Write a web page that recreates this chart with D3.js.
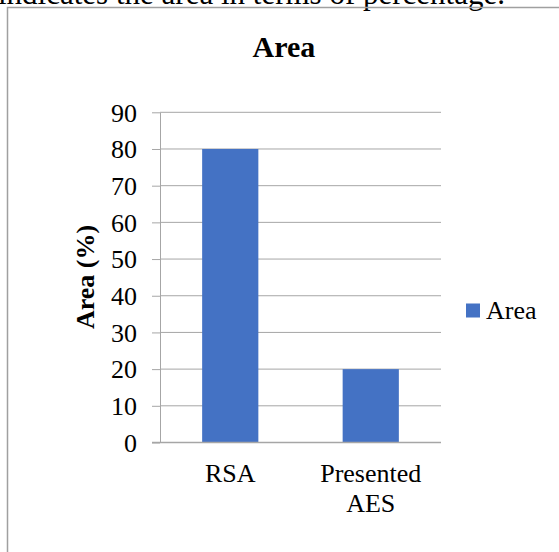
<!DOCTYPE html>
<html>
<head>
<meta charset="utf-8">
<script src="https://cdn.jsdelivr.net/npm/d3@7"></script>
<style>
  html, body { margin: 0; padding: 0; background: #fff; }
  svg { display: block; }
</style>
</head>
<body>
<svg id="chart" width="559" height="552"></svg>
<script>
// Chart data
const categories = [["RSA"], ["Presented", "AES"]];
const values = [80, 20];
const yTicks = [0, 10, 20, 30, 40, 50, 60, 70, 80, 90];
const seriesName = "Area";
const chartTitle = "Area";
const yLabel = "Area (%)";
const captionText = "indicates the area in terms of percentage.";

const font = "'Liberation Serif', 'Times New Roman', serif";
const barColor = "#4472C4";
const gridColor = "#A6A6A6";

const svg = d3.select("#chart");

// Caption line from the surrounding document
svg.append("text")
  .attr("x", -2).attr("y", 4)
  .attr("font-family", font).attr("font-size", 31)
  .attr("fill", "#000")
  .text(captionText);

// Chart frame (left and top edges)
svg.append("path")
  .attr("d", "M7.5,560 V7.5 H570")
  .attr("fill", "none")
  .attr("stroke", "#A0A0A0")
  .attr("stroke-width", 1.5);

const plot = { left: 160, right: 441, top: 112.3, bottom: 442.5 };

const x = d3.scaleBand()
  .domain(categories.map(c => c.join(" ")))
  .range([plot.left, plot.right])
  .paddingInner(0.6)
  .paddingOuter(0.3);

const y = d3.scaleLinear()
  .domain([0, 90])
  .range([plot.bottom, plot.top]);

// Title
svg.append("text")
  .attr("x", 284).attr("y", 57)
  .attr("text-anchor", "middle")
  .attr("font-family", font).attr("font-size", 30).attr("font-weight", "bold")
  .text(chartTitle);

// Gridlines
svg.append("g")
  .selectAll("line")
  .data(yTicks)
  .join("line")
  .attr("x1", plot.left).attr("x2", plot.right)
  .attr("y1", d => y(d)).attr("y2", d => y(d))
  .attr("stroke", gridColor).attr("stroke-width", 1);

// Y axis
const yAxis = svg.append("g")
  .attr("transform", `translate(${plot.left},0)`)
  .call(d3.axisLeft(y).tickValues(yTicks).tickSize(8).tickPadding(15).tickSizeOuter(0));
yAxis.select(".domain").attr("stroke", gridColor);
yAxis.selectAll(".tick line").attr("stroke", gridColor);
yAxis.selectAll(".tick text")
  .attr("font-family", font).attr("font-size", 26).attr("fill", "#000")
  .attr("dy", "0.34em");

// Bars
svg.append("g")
  .selectAll("rect")
  .data(values)
  .join("rect")
  .attr("x", (d, i) => x(categories[i].join(" ")))
  .attr("width", x.bandwidth())
  .attr("y", d => y(d))
  .attr("height", d => y(0) - y(d))
  .attr("fill", barColor);

// Redraw baseline above bars
svg.append("line")
  .attr("x1", plot.left - 8).attr("x2", plot.right)
  .attr("y1", y(0)).attr("y2", y(0))
  .attr("stroke", gridColor).attr("stroke-width", 1.5);

// Category labels
const catG = svg.append("g");
categories.forEach((lines, i) => {
  const cx = x(lines.join(" ")) + x.bandwidth() / 2;
  const t = catG.append("text")
    .attr("text-anchor", "middle")
    .attr("font-family", font).attr("font-size", 26);
  lines.forEach((ln, j) => {
    t.append("tspan").attr("x", cx).attr("y", 482 + j * 30).text(ln);
  });
});

// Y axis title
svg.append("text")
  .attr("transform", "translate(94,277) rotate(-90)")
  .attr("text-anchor", "middle")
  .attr("font-family", font).attr("font-size", 26).attr("font-weight", "bold")
  .text(yLabel);

// Legend
svg.append("rect")
  .attr("x", 466).attr("y", 303.5)
  .attr("width", 14).attr("height", 14)
  .attr("fill", barColor);
svg.append("text")
  .attr("x", 486).attr("y", 319)
  .attr("font-family", font).attr("font-size", 26)
  .text(seriesName);
</script>
</body>
</html>
